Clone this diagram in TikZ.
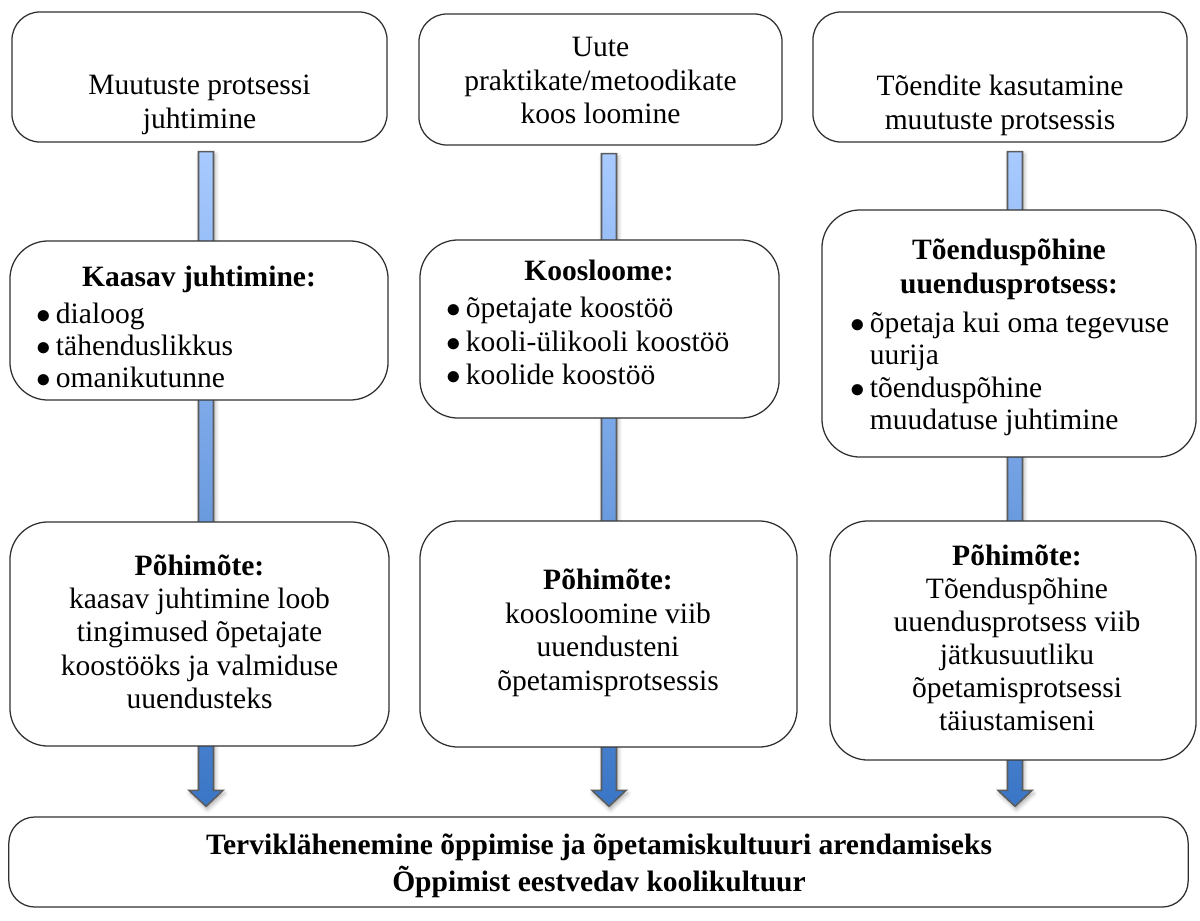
\documentclass[tikz,border=0pt]{standalone}
\usepackage{graphicx}
\usepackage{fontspec}
\setmainfont{Liberation Serif}
\usetikzlibrary{calc,shadows.blur,backgrounds}
\definecolor{arrtop}{HTML}{A8CAFF}
\definecolor{arrbot}{HTML}{3A76C6}
\definecolor{arredge}{HTML}{5C5C5C}
\definecolor{boxedge}{HTML}{303030}
\newcommand{\mybul}{\makebox[14pt][l]{$\bullet$}}
\newcommand{\myhang}{\hspace*{14pt}}
\newcommand{\colarrow}[2]{%
  \draw[arr] ($(#1)+(-7.5,0)$) -- ($(#1)+(7.5,0)$) -- ($(#2)+(7.5,-16)$) --
    ($(#2)+(17,-16)$) -- (#2) -- ($(#2)+(-17,-16)$) -- ($(#2)+(-7.5,-16)$) -- cycle;}
\begin{document}
\begin{tikzpicture}[x=0.025cm, y=-0.025cm,
  box/.style={draw=boxedge, line width=0.9pt, fill=white, rounded corners=0.95cm, inner sep=0pt, anchor=center},
  topbox/.style={box, rounded corners=0.7cm},
  finbox/.style={box, rounded corners=0.65cm},
  txt/.style={font=\fontsize{21}{24}\selectfont, inner sep=0pt},
  ctr/.style={txt, anchor=mid},
  lft/.style={txt, anchor=mid west},
  hd/.style={ctr, font=\fontsize{21}{24}\selectfont\bfseries},
  arr/.style={draw=arredge, line width=1.1pt, top color=arrtop, bottom color=arrbot, line join=miter,
    blur shadow={shadow xshift=1pt, shadow yshift=-2pt, shadow blur radius=3pt, shadow opacity=35}}
]
\useasboundingbox (0,0) rectangle (1200,920);

% boxes
\node[topbox, minimum width=9.375cm, minimum height=3.25cm] (t1) at (199.5,77) {};
\node[topbox, minimum width=9.075cm, minimum height=3.275cm] (t2) at (600.5,79.5) {};
\node[topbox, minimum width=9.35cm, minimum height=3.25cm] (t3) at (1000,77) {};

\node[box, minimum width=9.45cm, minimum height=3.975cm] (m1) at (199,320.5) {};
\node[box, minimum width=8.975cm, minimum height=4.45cm] (m2) at (599.5,329) {};
\node[box, minimum width=9.35cm, minimum height=6.175cm] (m3) at (1009,333.5) {};

\node[box, minimum width=9.475cm, minimum height=5.6cm] (b1) at (199.5,634) {};
\node[box, minimum width=9.425cm, minimum height=5.65cm] (b2) at (608.5,634) {};
\node[box, minimum width=9.15cm, minimum height=5.975cm] (b3) at (1013,640.5) {};

\node[finbox, minimum width=29.475cm, minimum height=2.25cm] (fin) at (598.5,862) {};

% arrows (behind boxes)
\coordinate (a1s) at ([shift={(6.5,9)}]t1.south);
\coordinate (a2s) at ([shift={(8.5,8)}]t2.south);
\coordinate (a3s) at ([shift={(15,9)}]t3.south);
\coordinate (a1e) at (a1s |- fin.north);
\coordinate (a2e) at (a2s |- fin.north);
\coordinate (a3e) at (a3s |- fin.north);
\coordinate (a1t) at ([yshift=0.25cm]a1e);
\coordinate (a2t) at ([yshift=0.25cm]a2e);
\coordinate (a3t) at ([yshift=0.25cm]a3e);
\begin{scope}[on background layer]
\colarrow{a1s}{a1t}
\colarrow{a2s}{a2t}
\colarrow{a3s}{a3t}
\end{scope}

% top row texts
\node[ctr] (t1a) at (199.5,91) {Muutuste protsessi};
\node[ctr] (t1b) at (199.5,125) {juhtimine};
\node[ctr] (t2a) at (600.5,53) {Uute};
\node[ctr] (t2b) at (600.5,87) {praktikate/metoodikate};
\node[ctr] (t2c) at (600.5,120) {koos loomine};
\node[ctr] (t3a) at (1000,92) {Tõendite kasutamine};
\node[ctr] (t3b) at (1000,126) {muutuste protsessis};

% middle row texts
\node[hd] (m1h) at (199,283) {Kaasav juhtimine:};
\node[lft] (m1a) at (36,320) {\mybul dialoog};
\node[lft] (m1b) at (36,352) {\mybul tähenduslikkus};
\node[lft] (m1c) at (36,384) {\mybul omanikutunne};

\node[hd] (m2h) at (599,277) {Koosloome:};
\node[lft] (m2a) at (446,314) {\mybul õpetajate koostöö};
\node[lft] (m2b) at (446,348) {\mybul kooli-ülikooli koostöö};
\node[lft] (m2c) at (446,381) {\mybul koolide koostöö};

\node[hd] (m3h1) at (1009,256) {Tõenduspõhine};
\node[hd] (m3h2) at (1009,290) {uuendusprotsess:};
\node[lft] (m3a) at (850,329) {\mybul õpetaja kui oma tegevuse};
\node[lft] (m3b) at (850,361) {\myhang uurija};
\node[lft] (m3c) at (850,394) {\mybul tõenduspõhine};
\node[lft] (m3d) at (850,426) {\myhang muudatuse juhtimine};

% third row texts
\node[hd] (b1h) at (199.5,572) {Põhimõte:};
\node[ctr] (b1a) at (199.5,605) {kaasav juhtimine loob};
\node[ctr] (b1b) at (199.5,638) {tingimused õpetajate};
\node[ctr] (b1c) at (199.5,672) {koostööks ja valmiduse};
\node[ctr] (b1d) at (199.5,705) {uuendusteks};

\node[hd] (b2h) at (608,586) {Põhimõte:};
\node[ctr] (b2a) at (608,620) {koosloomine viib};
\node[ctr] (b2b) at (608,653) {uuendusteni};
\node[ctr] (b2c) at (608,687) {õpetamisprotsessis};

\node[hd] (b3h) at (1017,562) {Põhimõte:};
\node[ctr] (b3a) at (1017,595) {Tõenduspõhine};
\node[ctr] (b3b) at (1017,628) {uuendusprotsess viib};
\node[ctr] (b3c) at (1017,661) {jätkusuutliku};
\node[ctr] (b3d) at (1017,694) {õpetamisprotsessi};
\node[ctr] (b3e) at (1017,727) {täiustamiseni};

% final box texts
\node[hd] (fa) at (599,851) {Terviklähenemine õppimise ja õpetamiskultuuri arendamiseks};
\node[hd] (fb) at (599,888) {Õppimist eestvedav koolikultuur};
\end{tikzpicture}
\end{document}
